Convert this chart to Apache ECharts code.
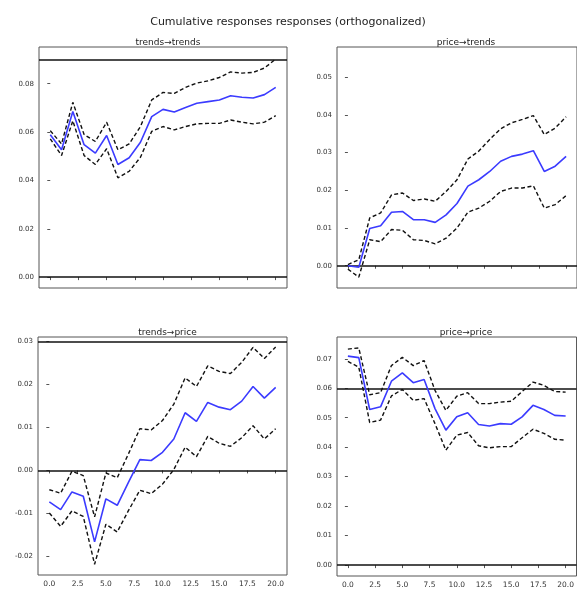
<!DOCTYPE html>
<html>
<head>
<meta charset="utf-8">
<script src="https://cdn.jsdelivr.net/npm/echarts@6/dist/echarts.min.js"></script>
<style>
html,body{margin:0;padding:0;background:#fff;}
#c{width:577px;height:593px;}
</style>
</head>
<body>
<div id="c"></div>
<script>
// ---- data ----
var steps = [0,1,2,3,4,5,6,7,8,9,10,11,12,13,14,15,16,17,18,19,20];
var xTicks = [0,2.5,5,7.5,10,12.5,15,17.5,20];
var titles = ['trends\u2192trends','price\u2192trends','trends\u2192price','price\u2192price'];

// trends -> trends
var tt_mean  = [0.0589,0.0527,0.0685,0.0548,0.0513,0.0586,0.0466,0.0494,0.0558,0.0664,0.0694,0.0683,0.0702,0.0719,0.0726,0.0733,0.0750,0.0744,0.0741,0.0755,0.0785];
var tt_upper = [0.0606,0.0551,0.0723,0.0590,0.0561,0.0641,0.0527,0.0551,0.0623,0.0733,0.0764,0.0760,0.0785,0.0803,0.0812,0.0826,0.0849,0.0844,0.0847,0.0865,0.0902];
var tt_lower = [0.0572,0.0503,0.0647,0.0503,0.0466,0.0531,0.0411,0.0438,0.0496,0.0603,0.0623,0.0609,0.0623,0.0634,0.0636,0.0636,0.0650,0.0641,0.0634,0.0641,0.0668];
var tt_hlines = [0, 0.0907];
var tt_yTicks = [0,0.02,0.04,0.06,0.08];

// price -> trends
var pt_mean  = [0.0000,-0.0004,0.0099,0.0106,0.0142,0.0144,0.0122,0.0122,0.0115,0.0135,0.0165,0.0211,0.0228,0.0250,0.0277,0.0290,0.0296,0.0305,0.0250,0.0264,0.0290];
var pt_upper = [0.0003,0.0016,0.0127,0.0140,0.0188,0.0193,0.0173,0.0177,0.0171,0.0197,0.0228,0.0283,0.0304,0.0335,0.0363,0.0379,0.0388,0.0398,0.0348,0.0365,0.0395];
var pt_lower = [-0.0009,-0.0030,0.0069,0.0064,0.0096,0.0094,0.0069,0.0067,0.0058,0.0073,0.0100,0.0142,0.0153,0.0171,0.0197,0.0206,0.0206,0.0212,0.0153,0.0162,0.0186];
var pt_hlines = [0, 0.0551];
var pt_yTicks = [0,0.01,0.02,0.03,0.04,0.05];

// trends -> price
var tp_mean  = [-0.0073,-0.0091,-0.0050,-0.0060,-0.0166,-0.0066,-0.0081,-0.0027,0.0025,0.0023,0.0042,0.0073,0.0134,0.0114,0.0158,0.0147,0.0141,0.0161,0.0195,0.0168,0.0193];
var tp_upper = [-0.0045,-0.0053,-0.0002,-0.0012,-0.0108,-0.0006,-0.0017,0.0039,0.0097,0.0094,0.0116,0.0154,0.0215,0.0195,0.0243,0.0230,0.0225,0.0251,0.0286,0.0260,0.0287];
var tp_lower = [-0.0099,-0.0130,-0.0094,-0.0107,-0.0218,-0.0125,-0.0143,-0.0093,-0.0046,-0.0054,-0.0032,0.0002,0.0054,0.0032,0.0079,0.0063,0.0056,0.0076,0.0104,0.0073,0.0097];
var tp_hlines = [0, 0.0278];
var tp_yTicks = [-0.02,-0.01,0,0.01,0.02,0.03];

// price -> price
var pp_mean  = [0.0709,0.0704,0.0528,0.0537,0.0624,0.0652,0.0619,0.0630,0.0531,0.0458,0.0503,0.0517,0.0477,0.0472,0.0480,0.0478,0.0503,0.0542,0.0528,0.0508,0.0506];
var pp_upper = [0.0733,0.0737,0.0578,0.0585,0.0677,0.0705,0.0677,0.0694,0.0593,0.0525,0.0573,0.0585,0.0548,0.0548,0.0553,0.0556,0.0589,0.0621,0.0610,0.0589,0.0587];
var pp_lower = [0.0691,0.0672,0.0484,0.0492,0.0574,0.0596,0.0559,0.0565,0.0480,0.0390,0.0441,0.0450,0.0405,0.0398,0.0402,0.0402,0.0432,0.0461,0.0447,0.0427,0.0424];
var pp_hlines = [0, 0.0585];
var pp_yTicks = [0,0.01,0.02,0.03,0.04,0.05,0.06,0.07];

// ---- build ----
var panels = [
  {mean:tt_mean, up:tt_upper, lo:tt_lower, h:tt_hlines, yt:tt_yTicks, ymin:-0.0045, ymax:0.0952, grid:{left:39, top:47, width:248, height:241}, xlab:false},
  {mean:pt_mean, up:pt_upper, lo:pt_lower, h:pt_hlines, yt:pt_yTicks, ymin:-0.0059, ymax:0.0580, grid:{left:337, top:47, width:248, height:241}, xlab:false},
  {mean:tp_mean, up:tp_upper, lo:tp_lower, h:tp_hlines, yt:tp_yTicks, ymin:-0.0243, ymax:0.0310, grid:{left:38, top:337, width:249, height:238}, xlab:true},
  {mean:pp_mean, up:pp_upper, lo:pp_lower, h:pp_hlines, yt:pp_yTicks, ymin:-0.0037, ymax:0.0774, grid:{left:337, top:337, width:248, height:239}, xlab:true}
];

function pairs(ys){ return steps.map(function(x,i){ return [x, ys[i]]; }); }

var FONT = 'DejaVu Sans';
var grids=[], xAxes=[], yAxes=[], series=[], titleArr=[];
titleArr.push({text:'Cumulative responses responses (orthogonalized)', left:283, top:12, textAlign:'center',
  textStyle:{fontFamily:FONT, fontSize:11, fontWeight:'normal', color:'#222'}});

panels.forEach(function(p, k){
  var g = p.grid;
  grids.push({left:g.left, top:g.top, width:g.width, height:g.height, show:true, borderColor:'#555', borderWidth:1, backgroundColor:'#fff'});
  titleArr.push({text:titles[k], left:g.left + g.width/2, top:g.top-14, textAlign:'center',
    textStyle:{fontFamily:FONT, fontSize:9, fontWeight:'normal', color:'#222'}});
  xAxes.push({type:'value', gridIndex:k, min:-1, max:21,
    axisLine:{show:false}, splitLine:{show:false},
    axisTick:{show:true, customValues:xTicks, length:3, lineStyle:{color:'#555'}},
    axisLabel:{show:p.xlab, customValues:xTicks, fontFamily:FONT, fontSize:7.5, color:'#333', margin:5,
      formatter:function(v){ return v.toFixed(1); }}
  });
  yAxes.push({type:'value', gridIndex:k, min:p.ymin, max:p.ymax,
    axisLine:{show:false}, splitLine:{show:false},
    axisTick:{show:true, customValues:p.yt, length:3, lineStyle:{color:'#555'}},
    axisLabel:{customValues:p.yt, fontFamily:FONT, fontSize:7, color:'#333', margin:5,
      formatter:function(v){ return v.toFixed(2); }}
  });
  series.push({type:'line', xAxisIndex:k, yAxisIndex:k, data:pairs(p.mean), symbol:'none', silent:true,
    lineStyle:{color:'#3b3bff', width:1.6}, z:5,
    markLine:{silent:true, symbol:'none', label:{show:false},
      lineStyle:{color:'#111', width:1.7, type:'solid'},
      data:p.h.map(function(v){ return {yAxis:v}; })}
  });
  series.push({type:'line', xAxisIndex:k, yAxisIndex:k, data:pairs(p.up), symbol:'none', silent:true,
    lineStyle:{color:'#111', width:1.4, type:[4,2.5]}, z:4});
  series.push({type:'line', xAxisIndex:k, yAxisIndex:k, data:pairs(p.lo), symbol:'none', silent:true,
    lineStyle:{color:'#111', width:1.4, type:[4,2.5]}, z:4});
});

var chart = echarts.init(document.getElementById('c'), null, {renderer:'canvas'});
chart.setOption({
  backgroundColor:'#fff',
  animation:false,
  title:titleArr,
  grid:grids,
  xAxis:xAxes,
  yAxis:yAxes,
  series:series
});
</script>
</body>
</html>
